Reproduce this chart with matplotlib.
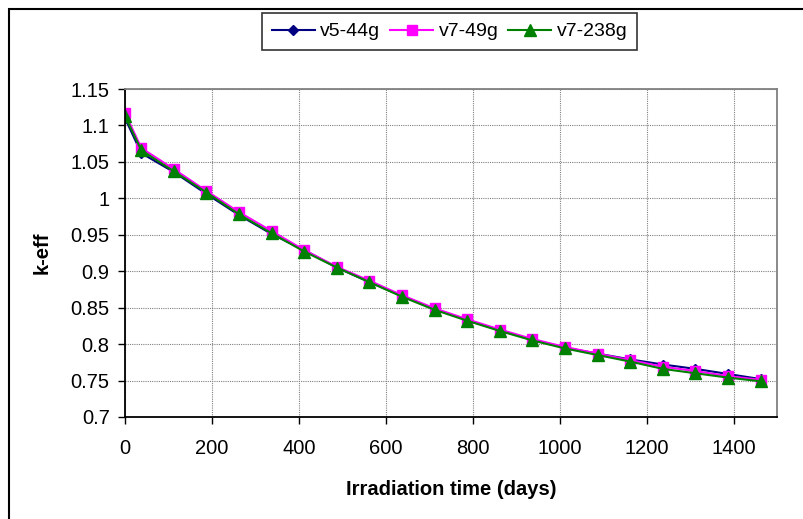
import matplotlib
matplotlib.use("Agg")
import matplotlib.pyplot as plt
from matplotlib.patches import Rectangle
from matplotlib.ticker import FuncFormatter, MultipleLocator

plt.rcParams['font.family'] = ['Liberation Sans', 'DejaVu Sans']

# irradiation time (days) and k-eff per library
days = [0, 37.5, 112.5, 187.5, 262.5, 337.5, 412.5, 487.5, 562.5, 637.5, 712.5,
        787.5, 862.5, 937.5, 1012.5, 1087.5, 1162.5, 1237.5, 1312.5, 1387.5, 1462.5]
v5_44g = [1.110, 1.062, 1.036, 1.006, 0.977, 0.951, 0.929, 0.905, 0.885, 0.866, 0.848,
          0.833, 0.819, 0.806, 0.795, 0.787, 0.779, 0.772, 0.766, 0.759, 0.752]
v7_49g = [1.117, 1.069, 1.040, 1.010, 0.981, 0.955, 0.929, 0.906, 0.887, 0.867, 0.849,
          0.834, 0.820, 0.807, 0.796, 0.787, 0.778, 0.769, 0.763, 0.756, 0.751]
v7_238g = [1.113, 1.066, 1.037, 1.008, 0.978, 0.952, 0.927, 0.905, 0.885, 0.865, 0.847,
           0.832, 0.818, 0.805, 0.794, 0.785, 0.776, 0.766, 0.760, 0.754, 0.749]
labels = ['v5-44g', 'v7-49g', 'v7-238g']

W, H = 804, 519
fig = plt.figure(figsize=(W / 100, H / 100), dpi=100)

# outer chart frame (cut off at right/bottom like the source)
fig.patches.append(Rectangle((9 / W, -0.1), 1.2, 1 - 9 / H + 0.1, transform=fig.transFigure,
                             fill=False, edgecolor='black', linewidth=1.5))

ax = fig.add_axes([125 / W, 1 - 417 / H, (777 - 125) / W, (417 - 89) / H])

ax.plot(days, v5_44g, color='#000080', marker='D', markersize=5.5, linewidth=1.5, label=labels[0])
ax.plot(days, v7_49g, color='#FF00FF', marker='s', markersize=7, linewidth=1.5, label=labels[1])
ax.plot(days, v7_238g, color='#008000', marker='^', markersize=8, linewidth=1.5, label=labels[2])

ax.set_xlim(0, 1500)
ax.set_ylim(0.7, 1.15)
ax.set_xticks(range(0, 1401, 200))
ax.yaxis.set_major_locator(MultipleLocator(0.05))
ax.yaxis.set_major_formatter(FuncFormatter(lambda v, p: '%g' % round(v, 2)))

ax.grid(True, color='#808080', linestyle=(0, (1, 1)), linewidth=0.8)
ax.set_axisbelow(True)
ax.tick_params(direction='out', length=5, width=1, labelsize=14.5, colors='black')
ax.tick_params(axis='y', pad=6)
ax.tick_params(axis='x', pad=11)
for s in ['left', 'bottom']:
    ax.spines[s].set_color('black')
    ax.spines[s].set_linewidth(1.3)
for s in ['top', 'right']:
    ax.spines[s].set_color('#808080')
    ax.spines[s].set_linewidth(1.3)

ax.set_xlabel('Irradiation time (days)', fontsize=14.5, fontweight='bold', labelpad=16)
ax.set_ylabel('k-eff', fontsize=14.5, fontweight='bold', labelpad=14)

leg = fig.legend(loc='upper left', bbox_to_anchor=(262 / W, 1 - 13 / H), ncol=3,
                 fontsize=14, frameon=True, fancybox=False, edgecolor='black',
                 handlelength=2.2, handletextpad=0.3, columnspacing=0.5,
                 borderpad=0.5, borderaxespad=0)
leg.get_frame().set_linewidth(1.2)

plt.savefig('out.png', dpi=100)
